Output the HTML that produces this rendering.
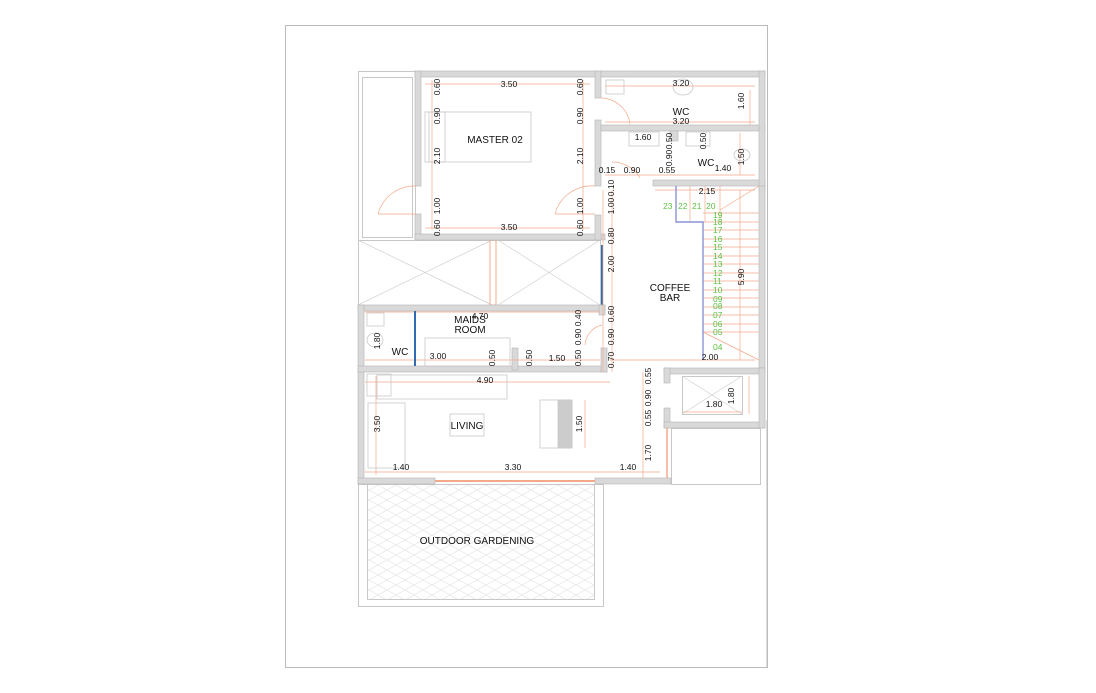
<!DOCTYPE html>
<html><head><meta charset="utf-8"><style>
html,body{margin:0;padding:0;background:#fff;}
svg{display:block;font-family:"Liberation Sans",sans-serif;}
.w{fill:#d9d9d9;stroke:#b5b5b5;stroke-width:0.6}
.t{fill:none;stroke:#c8c8c8;stroke-width:1}
.l{font-size:10px;fill:#111}
.d{font-size:8.5px;fill:#111}
.g{font-size:8.5px;fill:#5cc244}
</style></head><body>
<svg width="1096" height="693" viewBox="0 0 1096 693" xmlns="http://www.w3.org/2000/svg">
<defs>
<pattern id="dia" width="18" height="10" patternUnits="userSpaceOnUse">
<path d="M0 5 L9 0 L18 5 L9 10 Z" fill="none" stroke="#e3e3e3" stroke-width="0.7"/>
</pattern>
</defs>
<rect x="285.5" y="25.5" width="482" height="642" fill="none" stroke="#bbb"/>
<rect x="358.5" y="71.5" width="57" height="169" class="t"/>
<rect x="362.5" y="77.5" width="50" height="160" class="t"/>
<rect x="358.5" y="240.5" width="242" height="65" class="t"/>
<path d="M358 240 L492 305 M358 305 L492 240 M498 240 L600 305 M498 305 L600 240" stroke="#d0d0d0" stroke-width="0.7"/>
<rect x="490" y="240" width="6" height="65" fill="none" stroke="#f4a98a"/>
<line x1="602" y1="245" x2="602" y2="305" stroke="#2f6db0" stroke-width="2"/>
<rect x="358.5" y="484.5" width="245" height="122" class="t"/>
<rect x="367.5" y="484.5" width="227" height="115" fill="url(#dia)" stroke="#c8c8c8"/>
<text x="477" y="544" class="l" text-anchor="middle">OUTDOOR GARDENING</text>
<line x1="767" y1="420" x2="767" y2="667" stroke="#bbb"/>
<rect x="671.5" y="428.5" width="89" height="56" class="t"/>
<rect x="415" y="71" width="350" height="6" class="w"/>
<rect x="415" y="71" width="6" height="115" class="w"/>
<rect x="415" y="214" width="6" height="26" class="w"/>
<rect x="415" y="234" width="190" height="6" class="w"/>
<rect x="595" y="71" width="6" height="27" class="w"/>
<rect x="595" y="120" width="6" height="66" class="w"/>
<rect x="595" y="215" width="6" height="25" class="w"/>
<rect x="601" y="125" width="164" height="6" class="w"/>
<rect x="653" y="180" width="112" height="6" class="w"/>
<rect x="670" y="131" width="8" height="10" class="w"/>
<rect x="759" y="71" width="6" height="120" class="w"/>
<rect x="759" y="186" width="6" height="182" class="w"/>
<rect x="358" y="305" width="247" height="6" class="w"/>
<rect x="599" y="305" width="6" height="10" class="w"/>
<rect x="358" y="305" width="6" height="179" class="w"/>
<rect x="358" y="366" width="249" height="6" class="w"/>
<rect x="601" y="348" width="6" height="24" class="w"/>
<rect x="512" y="348" width="6" height="22" class="w"/>
<rect x="358" y="478" width="77" height="6" class="w"/>
<rect x="595" y="478" width="76" height="6" class="w"/>
<rect x="664" y="368" width="101" height="6" class="w"/>
<rect x="664" y="368" width="6" height="15" class="w"/>
<rect x="664" y="408" width="6" height="20" class="w"/>
<rect x="664" y="422" width="101" height="6" class="w"/>
<rect x="759" y="368" width="6" height="60" class="w"/>
<line x1="435" y1="481" x2="595" y2="481" stroke="#f4a98a" stroke-width="2"/>
<line x1="667" y1="428" x2="667" y2="478" stroke="#f4a98a" stroke-width="1.5"/>
<rect x="682.5" y="376.5" width="60" height="38" class="t"/>
<path d="M682 376 L742 414 M682 414 L742 376" stroke="#ccc" stroke-width="0.6"/>
<g stroke="#f4a98a" stroke-width="0.7" fill="none">
<line x1="676" y1="186" x2="676" y2="222"/><line x1="690" y1="186" x2="690" y2="222"/>
<line x1="705" y1="186" x2="705" y2="222"/><line x1="720" y1="186" x2="720" y2="222"/>
<line x1="703" y1="213" x2="759" y2="213"/><line x1="703" y1="222" x2="759" y2="222"/>
<line x1="703" y1="230" x2="759" y2="230"/><line x1="703" y1="239" x2="759" y2="239"/>
<line x1="703" y1="247" x2="759" y2="247"/><line x1="703" y1="256" x2="759" y2="256"/>
<line x1="703" y1="264" x2="759" y2="264"/><line x1="703" y1="273" x2="759" y2="273"/>
<line x1="703" y1="281" x2="759" y2="281"/><line x1="703" y1="290" x2="759" y2="290"/>
<line x1="703" y1="298" x2="759" y2="298"/><line x1="703" y1="307" x2="759" y2="307"/>
<line x1="703" y1="315" x2="759" y2="315"/><line x1="703" y1="324" x2="759" y2="324"/>
<line x1="703" y1="332" x2="759" y2="332"/>
<line x1="703" y1="332" x2="759" y2="360"/><line x1="759" y1="186" x2="720" y2="210"/>
<line x1="603" y1="190" x2="603" y2="372"/><line x1="612" y1="190" x2="612" y2="372"/>
<line x1="643" y1="372" x2="643" y2="478"/><line x1="750" y1="90" x2="750" y2="125"/>
<line x1="425" y1="84" x2="590" y2="84"/><line x1="425" y1="228" x2="590" y2="228"/>
<line x1="432" y1="80" x2="432" y2="230"/><line x1="583" y1="80" x2="583" y2="230"/>
<line x1="605" y1="86" x2="755" y2="86"/><line x1="605" y1="122" x2="755" y2="122"/>
<line x1="605" y1="175" x2="755" y2="175"/><line x1="655" y1="190" x2="755" y2="190"/>
<line x1="740" y1="133" x2="740" y2="175"/><line x1="740" y1="190" x2="740" y2="360"/>
<line x1="365" y1="312" x2="600" y2="312"/><line x1="365" y1="360" x2="600" y2="360"/>
<line x1="610" y1="360" x2="755" y2="360"/>
<line x1="365" y1="382" x2="610" y2="382"/><line x1="365" y1="472" x2="660" y2="472"/>
<line x1="376" y1="376" x2="376" y2="475"/><line x1="585" y1="400" x2="585" y2="448"/>
<line x1="749" y1="376" x2="749" y2="414"/><line x1="683" y1="412" x2="742" y2="412"/>
<path d="M378 214 A38 38 0 0 1 416 186 M378 214 L416 214"/><path d="M555 214 A38 38 0 0 1 595 186 M555 214 L595 214"/>
<path d="M601 98 A30 30 0 0 1 630 124"/><path d="M612 162 A32 32 0 0 1 640 178"/>
<path d="M585 345 A22 22 0 0 1 602 325"/>
</g>
<path d="M676 186 L676 222 L703 222 L703 360" fill="none" stroke="#8a93d6" stroke-width="1.4"/>
<line x1="415" y1="311" x2="415" y2="366" stroke="#2f6db0" stroke-width="2"/>
<g fill="none" stroke="#c8c8c8" stroke-width="0.8">
<rect x="425" y="112" width="106" height="50"/><rect x="429" y="112" width="16" height="50"/>
<rect x="425" y="338" width="85" height="28"/><rect x="377" y="375" width="130" height="24"/>
<rect x="367" y="374" width="24" height="22"/><rect x="368" y="403" width="37" height="65"/>
<rect x="450" y="414" width="34" height="22"/><rect x="540" y="400" width="32" height="48"/>
<rect x="558" y="400" width="14" height="48" fill="#ccc"/>
<rect x="686" y="132" width="24" height="14"/><rect x="629" y="132" width="30" height="14"/>
<rect x="606" y="80" width="18" height="14"/><ellipse cx="683" cy="87" rx="10" ry="8"/>
<ellipse cx="742" cy="155" rx="8" ry="6"/><ellipse cx="375" cy="340" rx="8" ry="7"/>
<rect x="367" y="313" width="17" height="13"/>
</g>
<text x="495" y="143" class="l" text-anchor="middle">MASTER 02</text>
<text x="681" y="115" class="l" text-anchor="middle">WC</text>
<text x="681" y="124" class="d" text-anchor="middle">3.20</text>
<text x="706" y="166" class="l" text-anchor="middle">WC</text>
<text x="670" y="291" class="l" text-anchor="middle">COFFEE</text>
<text x="670" y="301" class="l" text-anchor="middle">BAR</text>
<text x="470" y="323" class="l" text-anchor="middle">MAIDS</text>
<text x="470" y="333" class="l" text-anchor="middle">ROOM</text>
<text x="400" y="355" class="l" text-anchor="middle">WC</text>
<text x="467" y="429" class="l" text-anchor="middle">LIVING</text>
<g class="d" text-anchor="middle">
<text x="509" y="87">3.50</text><text x="509" y="230">3.50</text><text x="681" y="86">3.20</text>
<text x="643" y="140">1.60</text><text x="723" y="171">1.40</text>
<text x="607" y="173">0.15</text><text x="632" y="173">0.90</text><text x="667" y="173">0.55</text>
<text x="707" y="194">2.15</text><text x="480" y="319">4.70</text>
<text x="438" y="359">3.00</text><text x="557" y="361">1.50</text>
<text x="485" y="383">4.90</text><text x="401" y="470">1.40</text><text x="513" y="470">3.30</text>
<text x="628" y="470">1.40</text><text x="710" y="360">2.00</text><text x="714" y="407">1.80</text>
</g>
<g class="d" text-anchor="middle">
<text transform="translate(440,87) rotate(-90)">0.60</text><text transform="translate(440,116) rotate(-90)">0.90</text>
<text transform="translate(440,156) rotate(-90)">2.10</text><text transform="translate(440,206) rotate(-90)">1.00</text>
<text transform="translate(440,228) rotate(-90)">0.60</text>
<text transform="translate(583,87) rotate(-90)">0.60</text><text transform="translate(583,116) rotate(-90)">0.90</text>
<text transform="translate(583,156) rotate(-90)">2.10</text><text transform="translate(583,206) rotate(-90)">1.00</text>
<text transform="translate(583,228) rotate(-90)">0.60</text>
<text transform="translate(614,188) rotate(-90)">0.10</text><text transform="translate(614,206) rotate(-90)">1.00</text>
<text transform="translate(614,236) rotate(-90)">0.80</text><text transform="translate(614,264) rotate(-90)">2.00</text>
<text transform="translate(614,314) rotate(-90)">0.60</text><text transform="translate(614,337) rotate(-90)">0.90</text>
<text transform="translate(614,360) rotate(-90)">0.70</text>
<text transform="translate(581,318) rotate(-90)">0.40</text><text transform="translate(581,337) rotate(-90)">0.90</text>
<text transform="translate(581,358) rotate(-90)">0.50</text><text transform="translate(495,358) rotate(-90)">0.50</text>
<text transform="translate(532,358) rotate(-90)">0.50</text>
<text transform="translate(744,101) rotate(-90)">1.60</text><text transform="translate(744,157) rotate(-90)">1.50</text>
<text transform="translate(672,141) rotate(-90)">0.50</text><text transform="translate(706,141) rotate(-90)">0.50</text>
<text transform="translate(672,158) rotate(-90)">0.90</text>
<text transform="translate(744,277) rotate(-90)">5.90</text>
<text transform="translate(380,341) rotate(-90)">1.80</text><text transform="translate(380,424) rotate(-90)">3.50</text>
<text transform="translate(582,424) rotate(-90)">1.50</text>
<text transform="translate(651,376) rotate(-90)">0.55</text><text transform="translate(651,398) rotate(-90)">0.90</text>
<text transform="translate(651,418) rotate(-90)">0.55</text><text transform="translate(651,453) rotate(-90)">1.70</text>
<text transform="translate(734,396) rotate(-90)">1.80</text>
</g>
<g class="g">
<text x="663" y="209">23</text><text x="678" y="209">22</text><text x="692" y="209">21</text><text x="706" y="209">20</text>
<text x="713" y="218">19</text><text x="713" y="225">18</text><text x="713" y="233">17</text><text x="713" y="242">16</text>
<text x="713" y="250">15</text><text x="713" y="259">14</text><text x="713" y="267">13</text><text x="713" y="276">12</text>
<text x="713" y="284">11</text><text x="713" y="293">10</text><text x="713" y="302">09</text><text x="713" y="309">08</text>
<text x="713" y="318">07</text><text x="713" y="327">06</text><text x="713" y="335">05</text><text x="713" y="350">04</text>
</g>
</svg>
</body></html>
